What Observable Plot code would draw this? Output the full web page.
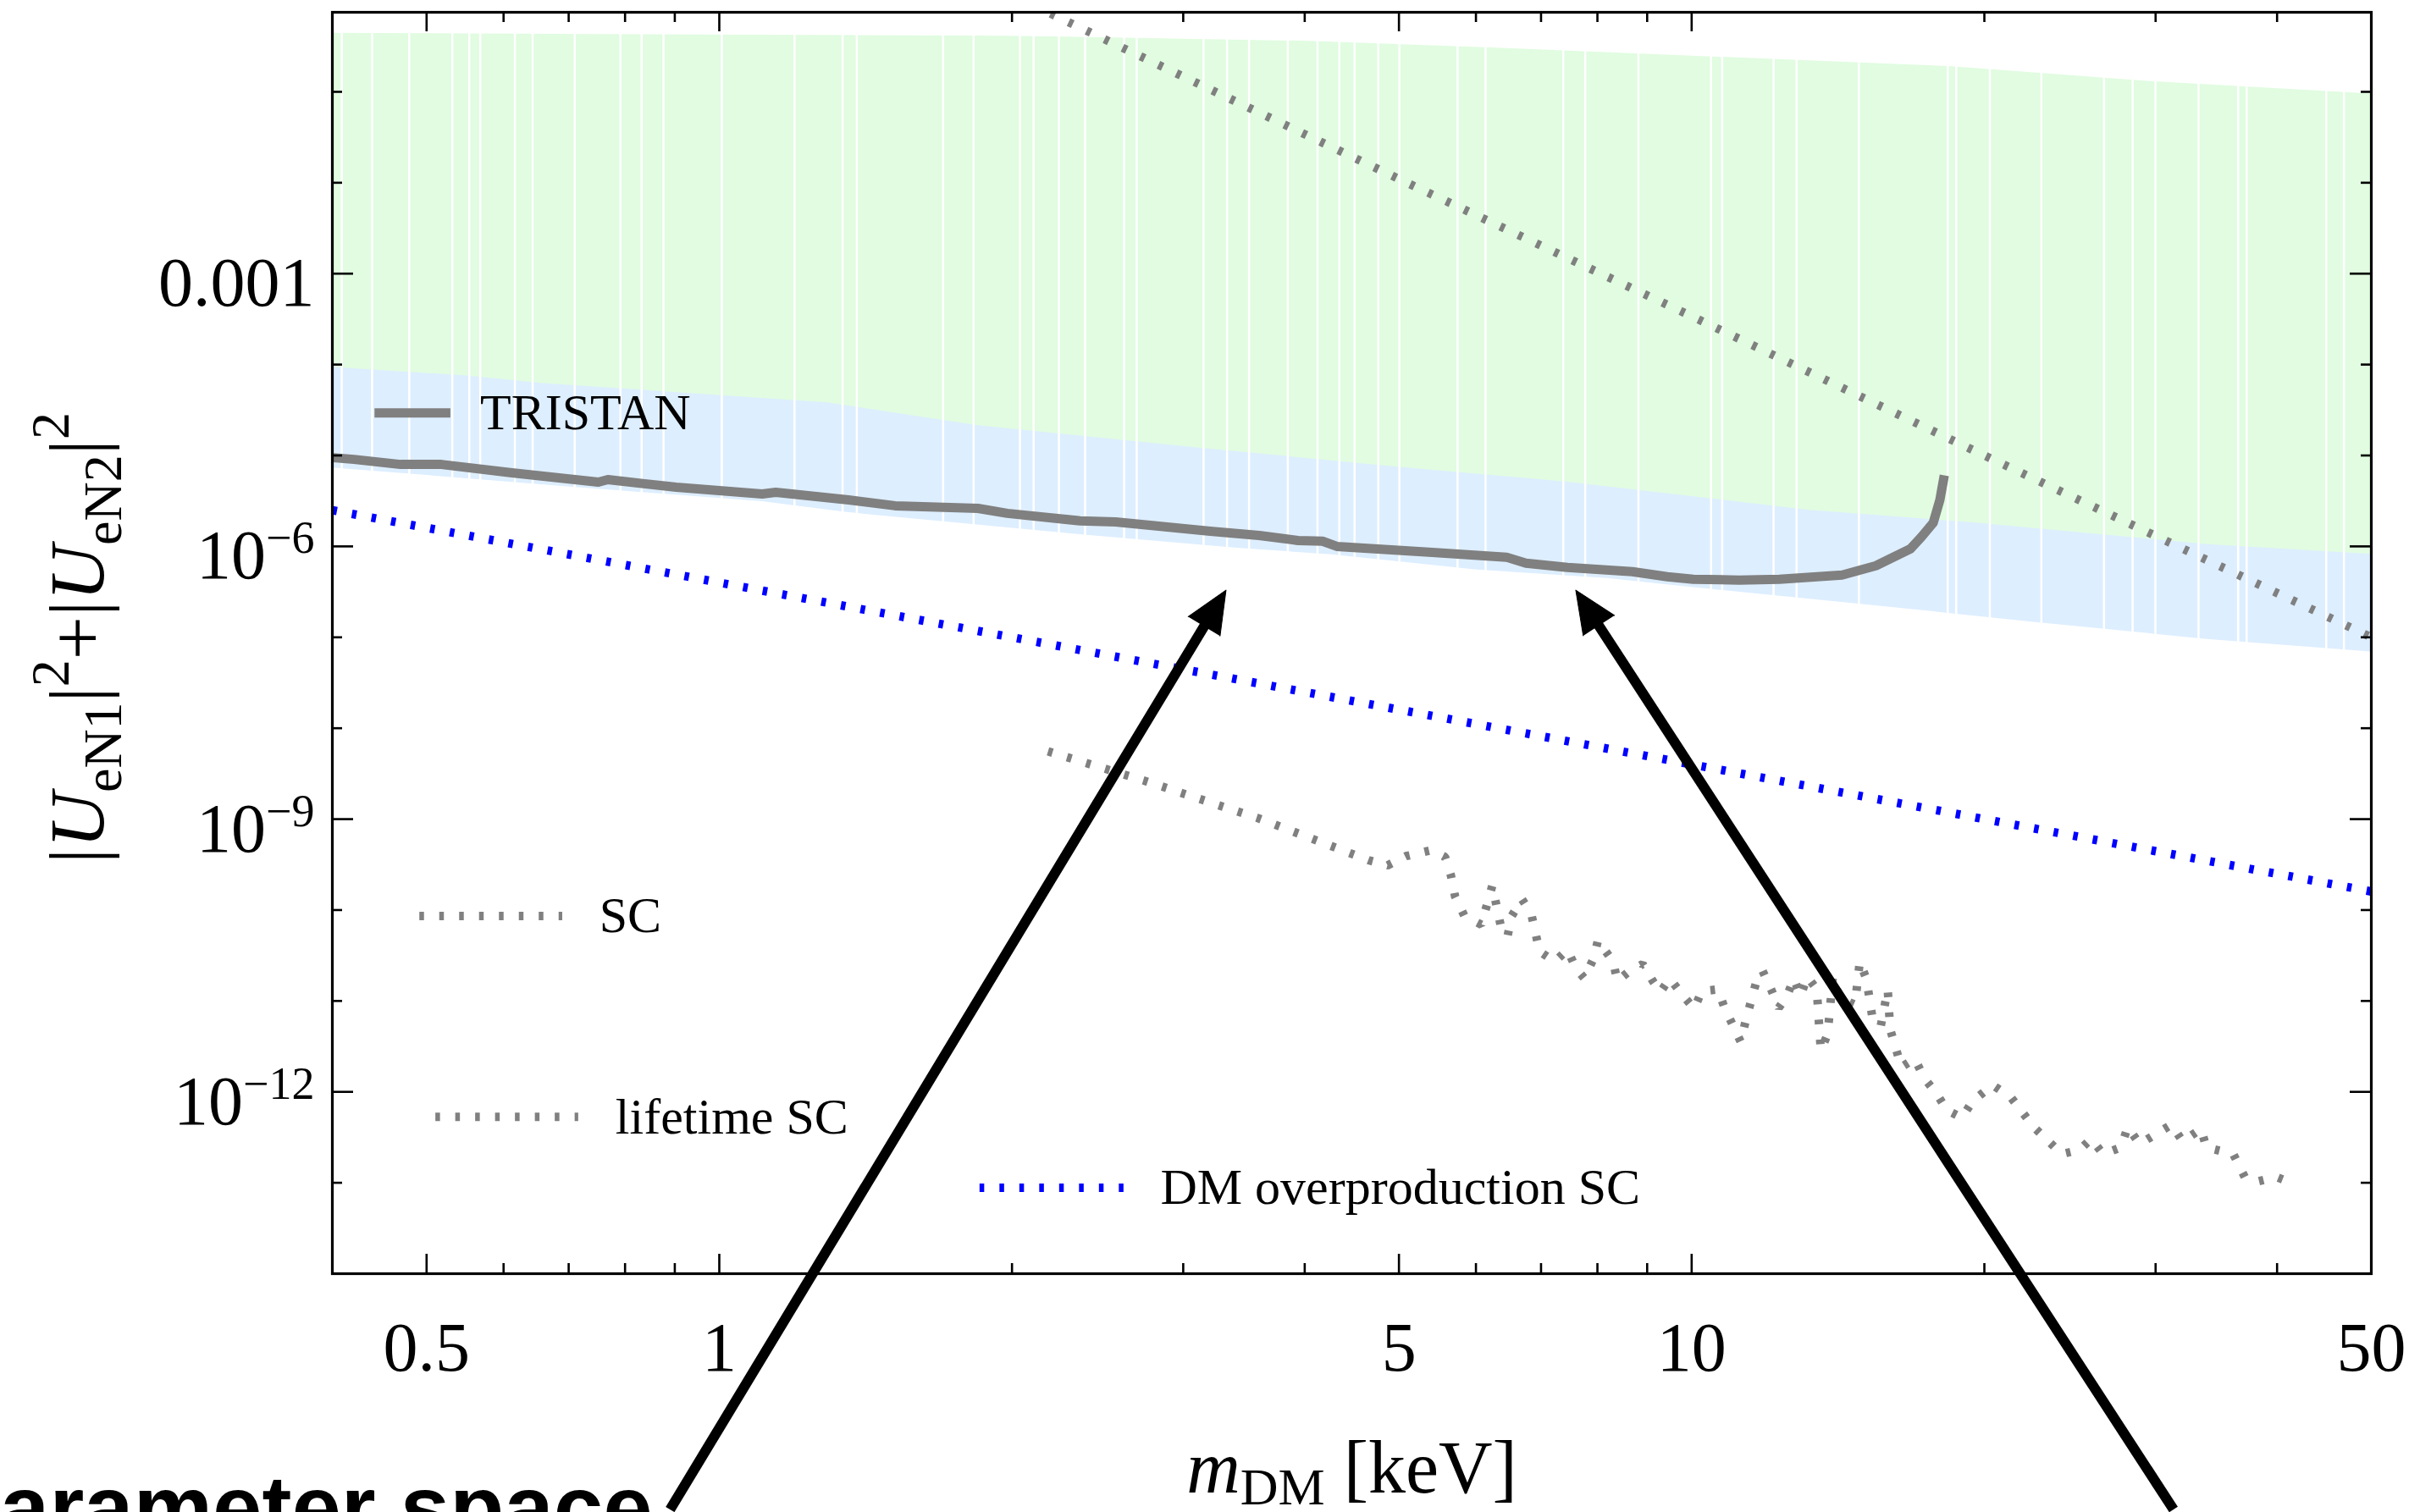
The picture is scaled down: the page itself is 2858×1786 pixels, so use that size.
<!DOCTYPE html>
<html>
<head>
<meta charset="utf-8">
<script src="https://cdn.jsdelivr.net/npm/d3@7"></script>
<script src="https://cdn.jsdelivr.net/npm/@observablehq/plot@0.6"></script>
<style>
html, body { margin: 0; padding: 0; background: #fff; overflow: hidden; width: 2858px; height: 1786px; }
#wrap { position: relative; width: 2858px; height: 1786px; overflow: hidden; }
#wrap svg { position: absolute; left: 0; top: 0; }
#caption { position: absolute; left: -70px; top: 1728px; font: bold 105px "Liberation Sans", Arial, sans-serif; line-height: 1; white-space: nowrap; color: #000; }
</style>
</head>
<body>
<div id="wrap"></div>
<script>
// ---------------- data ----------------
// scan band: upper edge of the green points
const greenTopM = [0.4, 1.98, 4.04, 6.70, 18.4, 29.6, 50];
const greenTopU = [0.44, 0.41, 0.36, 0.295, 0.19, 0.13, 0.095];
// boundary between green (upper) and blue (lower) points
const blueTopM = [0.4, 0.55, 0.658, 1.29, 1.845, 3.13, 4.95, 7.45, 13.2, 19.7, 33.9, 50];
const blueTopU = [9.3e-5, 7.5e-5, 6.2e-5, 3.8e-5, 2.13e-5, 1.2e-5, 7.5e-6, 5.1e-6, 2.5e-6, 1.8e-6, 1.05e-6, 8.2e-7];
// lower edge of the blue points
const blueBottomM = [0.4, 0.707, 1.107, 1.353, 2.402, 3.388, 4.264, 6.017, 8.189, 10.04, 15.07, 22.58, 33.88, 50];
const blueBottomU = [7.31e-6, 4.48e-6, 3.11e-6, 2.36e-6, 1.32e-6, 9.6e-7, 8.1e-7, 5.5e-7, 4.45e-7, 3.52e-7, 2.29e-7, 1.46e-7, 9.5e-8, 6.9e-8];
// empty mass columns in the scan
const scanGapM = [0.409, 0.4395, 0.4799, 0.5314, 0.5532, 0.5677, 0.6163, 0.6427, 0.7101, 0.7913, 0.832, 0.8763,
  1.006, 1.195, 1.339, 1.385, 1.699, 1.826, 2.038, 2.105, 2.235, 2.378, 2.608, 2.687, 3.148, 3.328, 3.506,
  3.843, 4.123, 4.342, 4.501, 4.761, 5.005, 5.744, 6.138, 7.379, 7.772, 8.816, 10.47, 10.75, 12.14, 12.82,
  14.86, 18.34, 18.71, 20.26, 22.89, 26.55, 28.41, 29.99, 33.21, 36.48, 37.22, 44.94, 46.86];

// TRISTAN sensitivity
const tristanM = [0.401, 0.421, 0.470, 0.518, 0.612, 0.751, 0.768, 0.903, 1.107, 1.143, 1.358, 1.516, 1.845, 1.978,
  2.35, 2.556, 3.198, 3.591, 3.937, 4.172, 4.316, 5.368, 6.452, 6.755, 7.451, 8.69, 9.44, 10.04, 11.19, 12.31,
  14.28, 15.47, 16.79, 17.23, 17.72, 18.00, 18.19];
const tristanU = [9.46e-6, 9.06e-6, 7.97e-6, 7.97e-6, 6.44e-6, 5.09e-6, 5.43e-6, 4.47e-6, 3.77e-6, 3.94e-6, 3.25e-6,
  2.80e-6, 2.62e-6, 2.31e-6, 1.91e-6, 1.86e-6, 1.47e-6, 1.32e-6, 1.16e-6, 1.14e-6, 1.00e-6, 8.63e-7, 7.59e-7,
  6.53e-7, 5.87e-7, 5.27e-7, 4.64e-7, 4.35e-7, 4.26e-7, 4.35e-7, 4.84e-7, 6.12e-7, 9.40e-7, 1.27e-6, 1.82e-6,
  3.25e-6, 6.04e-6];

// SC (straight grey dotted)
const scM = [2.1, 5, 10, 20, 50];
const scU = [0.9, 1.1e-2, 3.4e-4, 1.0e-5, 1.0e-7];

// lifetime SC (wiggly grey dotted)
const lifeM = [2.178, 2.741, 3.576, 4.658, 4.867, 5.086, 5.400, 5.577, 5.655, 5.711, 5.838, 6.077, 6.237, 6.364,
  6.466, 6.531, 6.689, 6.838, 6.976, 7.232, 7.452, 7.603, 7.757, 7.929, 8.009, 8.303, 8.386, 8.590, 8.904, 9.120,
  9.287, 9.493, 9.763, 10.06, 10.24, 10.64, 10.81, 11.23, 11.36, 11.64, 11.83, 12.07, 12.29, 12.54, 12.74, 12.94,
  13.15, 13.45, 13.53, 13.58, 13.80, 13.97, 14.19, 14.72, 14.89, 15.13, 15.35, 15.65, 15.91, 16.00, 16.43, 16.96,
  17.34, 17.86, 18.30, 18.97, 19.43, 20.39, 21.30, 22.48, 24.02, 25.05, 25.76, 26.49, 27.64, 28.08, 28.88, 31.16,
  31.98, 33.42, 33.82, 36.06, 37.08, 38.28, 39.93, 41.56];
const lifeU = [5.56e-9, 2.63e-9, 1.03e-9, 3.52e-10, 3.10e-10, 3.92e-10, 4.55e-10, 3.84e-10, 2.40e-10, 1.41e-10,
  8.6e-11, 6.9e-11, 1.85e-10, 6.65e-11, 5.14e-11, 8.6e-11, 1.32e-10, 9.2e-11, 3.50e-11, 2.71e-11, 3.66e-11, 2.28e-11,
  1.77e-11, 2.95e-11, 4.62e-11, 2.71e-11, 1.66e-11, 2.05e-11, 2.54e-11, 1.66e-11, 1.25e-11, 1.77e-11, 1.20e-11,
  8.2e-12, 1.28e-11, 1.34e-11, 8.4e-12, 3.56e-12, 5.93e-12, 1.55e-11, 2.14e-11, 1.34e-11, 8.4e-12, 1.15e-11,
  1.77e-11, 1.13e-11, 1.85e-11, 1.34e-11, 4.9e-12, 2.87e-12, 4.31e-12, 1.85e-11, 1.08e-11, 9.1e-12, 2.71e-11,
  1.73e-11, 6.3e-12, 5.33e-12, 1.34e-11, 4.9e-12, 1.87e-12, 2.32e-12, 1.42e-12, 9.6e-13, 6.3e-13, 5.19e-13, 7.8e-13,
  1.19e-12, 8.7e-13, 4.1e-13, 2.07e-13, 2.30e-13, 3.04e-13, 2.07e-13, 2.45e-13, 4.1e-13, 2.67e-13, 4.37e-13,
  2.85e-13, 3.93e-13, 2.45e-13, 2.07e-13, 1.14e-13, 1.04e-13, 1.16e-13, 9.8e-14];

// DM overproduction SC (blue dotted)
const overM = [0.4, 1, 10, 50];
const overU = [2.5e-6, 4.0e-7, 4.0e-9, 1.6e-10];

// legend entries (placed inside the frame, data coordinates)
const legendNames = ["TRISTAN", "SC", "lifetime SC", "DM overproduction SC"];
const legendLineM1 = [0.442, 0.4915, 0.5105, 1.852];
const legendLineM2 = [0.529, 0.6894, 0.716, 2.623];
const legendTextM = [0.5676, 0.7526, 0.782, 2.842];
const legendU = [2.94e-5, 8.6e-11, 5.3e-13, 8.8e-14];

// annotation arrows pointing at the TRISTAN curve
const arrowTipM = [3.32, 7.60];
const arrowTipU = [3.3e-7, 3.3e-7];
const arrowTailM = [0.890, 31.3];
const arrowTailU = [2.55e-17, 2.55e-17];

// ticks
const xMajor = [0.5, 1, 5, 10, 50];
const xTickLabels = ["0.5", "1", "5", "10", "50"];
const xMinor = [0.6, 0.7, 0.8, 0.9, 2, 3, 4, 6, 7, 8, 9, 20, 30, 40];
const yMajor = [1e-3, 1e-6, 1e-9, 1e-12];
const yTickLabels = ["0.001", "10^\u22126", "10^\u22129", "10^\u221212"];
const yMinor = [1e-1, 1e-2, 1e-4, 1e-5, 1e-7, 1e-8, 1e-10, 1e-11, 1e-13];

const xTitleParts = [["m", "i"], ["DM", "sub"], [" [keV]", ""]];
const yTitleParts = [["|", ""], ["U", "i"], ["eN1", "sub"], ["|", ""], ["2", "sup"], ["+", ""], ["|", ""], ["U", "i"], ["eN2", "sub"], ["|", ""], ["2", "sup"]];

// ---------------- styling ----------------
const W = 2858, H = 1786;
const ML = 392, MR = 58, MT = 14, MB = 282;
const PW = W - ML - MR, PH = H - MT - MB;
const GREEN = "#e1fce1", BLUE = "#ddeeff", GREY = "#808080", DMBLUE = "#0000ff";
const DOT = "5.5,18";
const LW = 10;
const SERIF = "'Liberation Serif', 'Times New Roman', serif";

const rows = (ms, us) => ms.map((m, i) => ({m, u: us[i]}));

const baseMarks = [
  Plot.areaY(rows(greenTopM, greenTopU), {x: "m", y1: 1e-14, y2: "u", fill: GREEN}),
  Plot.areaY(rows(blueTopM, blueTopU), {x: "m", y1: 1e-14, y2: "u", fill: BLUE}),
  Plot.areaY(rows(blueBottomM, blueBottomU), {x: "m", y1: 1e-14, y2: "u", fill: "white"}),
  Plot.ruleX(scanGapM, {x: d => d, stroke: "white", strokeWidth: 2.5}),
  Plot.line(rows(scM, scU), {x: "m", y: "u", stroke: GREY, strokeWidth: LW, strokeDasharray: DOT, strokeLinecap: "butt", clip: true}),
  Plot.line(rows(lifeM, lifeU), {x: "m", y: "u", stroke: GREY, strokeWidth: LW, strokeDasharray: DOT, strokeLinecap: "butt", strokeLinejoin: "miter", clip: true}),
  Plot.line(rows(overM, overU), {x: "m", y: "u", stroke: DMBLUE, strokeWidth: LW, strokeDasharray: DOT, strokeLinecap: "butt", clip: true}),
  Plot.line(rows(tristanM, tristanU), {x: "m", y: "u", stroke: GREY, strokeWidth: 11, strokeLinecap: "butt", clip: true}),
  // legends
  Plot.link([0], {x1: i => legendLineM1[i], x2: i => legendLineM2[i], y1: i => legendU[i], y2: i => legendU[i], stroke: GREY, strokeWidth: 11, strokeLinecap: "butt"}),
  Plot.link([1, 2], {x1: i => legendLineM1[i], x2: i => legendLineM2[i], y1: i => legendU[i], y2: i => legendU[i], stroke: GREY, strokeWidth: LW, strokeDasharray: DOT, strokeLinecap: "butt"}),
  Plot.link([3], {x1: i => legendLineM1[i], x2: i => legendLineM2[i], y1: i => legendU[i], y2: i => legendU[i], stroke: DMBLUE, strokeWidth: LW, strokeDasharray: DOT, strokeLinecap: "butt"}),
  Plot.text([0, 1, 2, 3], {x: i => legendTextM[i], y: i => legendU[i], text: i => legendNames[i], textAnchor: "start", lineAnchor: "middle", fontSize: 60, fill: "black"}),
  // ticks (inward, on all four sides)
  Plot.tickY(yMajor, {y: d => d, insetRight: PW - 25, stroke: "black", strokeWidth: 2.6}),
  Plot.tickY(yMinor, {y: d => d, insetRight: PW - 12, stroke: "black", strokeWidth: 2.6}),
  Plot.tickY(yMajor, {y: d => d, insetLeft: PW - 25, stroke: "black", strokeWidth: 2.6}),
  Plot.tickY(yMinor, {y: d => d, insetLeft: PW - 12, stroke: "black", strokeWidth: 2.6}),
  Plot.tickX(xMajor, {x: d => d, insetTop: PH - 23, stroke: "black", strokeWidth: 2.6}),
  Plot.tickX(xMinor, {x: d => d, insetTop: PH - 12, stroke: "black", strokeWidth: 2.6}),
  Plot.tickX(xMajor, {x: d => d, insetBottom: PH - 23, stroke: "black", strokeWidth: 2.6}),
  Plot.tickX(xMinor, {x: d => d, insetBottom: PH - 12, stroke: "black", strokeWidth: 2.6}),
  Plot.frame({stroke: "black", strokeWidth: 3.2}),
  // tick labels
  Plot.text(yMajor, {y: d => d, text: (d, i) => yTickLabels[i], frameAnchor: "left", textAnchor: "end", lineAnchor: "bottom", dx: -21, dy: 38, fontSize: 82, fill: "black"}),
  Plot.text(xMajor, {x: d => d, text: (d, i) => xTickLabels[i], frameAnchor: "bottom", textAnchor: "middle", lineAnchor: "bottom", dy: 114, fontSize: 82, fill: "black"}),
  // axis titles
  Plot.text(["y-axis-title"], {text: d => d, frameAnchor: "left", rotate: -90, textAnchor: "middle", lineAnchor: "bottom", dx: -271, dy: -6, fontSize: 91, fill: "black"}),
  Plot.text(["x-axis-title"], {text: d => d, frameAnchor: "bottom", textAnchor: "middle", lineAnchor: "bottom", dy: 258, fontSize: 88, fill: "black"})
];

const options = marks => ({
  width: W, height: H,
  marginLeft: ML, marginRight: MR, marginTop: MT, marginBottom: MB,
  style: {background: "transparent", fontFamily: SERIF, overflow: "visible"},
  x: {type: "log", domain: [0.4, 50], axis: null},
  y: {type: "log", domain: [1e-14, 0.75], axis: null},
  marks
});

// first pass: get the scales to orient the arrow heads
const probe = Plot.plot(options(baseMarks));
const sx = probe.scale("x"), sy = probe.scale("y");
const HEAD = 50;
const arrows = arrowTipM.map((m, i) => {
  const tx = sx.apply(m), ty = sy.apply(arrowTipU[i]);
  const ax = sx.apply(arrowTailM[i]), ay = sy.apply(arrowTailU[i]);
  const len = Math.hypot(tx - ax, ty - ay);
  const ux = (tx - ax) / len, uy = (ty - ay) / len;
  const ex = tx - ux * (HEAD - 4), ey = ty - uy * (HEAD - 4);
  return {
    tipM: m, tipU: arrowTipU[i], tailM: arrowTailM[i], tailU: arrowTailU[i],
    endM: sx.invert(ex), endU: sy.invert(ey),
    angle: Math.atan2(ux, -uy) * 180 / Math.PI
  };
});

const arrowMarks = [
  Plot.link(arrows, {x1: "tailM", y1: "tailU", x2: "endM", y2: "endU", stroke: "black", strokeWidth: 12, strokeLinecap: "butt"}),
  Plot.vector(arrows, {x: "tipM", y: "tipU", rotate: "angle", length: HEAD, r: 22, shape: "spike", anchor: "end", fill: "black", fillOpacity: 1, stroke: "black", strokeWidth: 1})
];

const svg = Plot.plot(options([...baseMarks, ...arrowMarks]));

// rich text (italic, sub- and superscripts)
const NS = "http://www.w3.org/2000/svg";
function richText(textEl, parts, size, subDrop = 0.24) {
  while (textEl.firstChild) textEl.removeChild(textEl.firstChild);
  let shift = 0;
  for (const [s, kind] of parts) {
    const t = document.createElementNS(NS, "tspan");
    t.textContent = s;
    let target = 0;
    if (kind === "sub") { target = subDrop * size; t.setAttribute("font-size", Math.round(size * 0.7)); }
    else if (kind === "sup") { target = -0.45 * size; t.setAttribute("font-size", Math.round(size * 0.7)); }
    if (kind === "i") t.setAttribute("font-style", "italic");
    const dy = target - shift;
    if (dy !== 0) t.setAttribute("dy", dy);
    shift = target;
    textEl.appendChild(t);
  }
}
Array.from(svg.querySelectorAll("text")).forEach(t => {
  const s = t.textContent;
  if (s === "y-axis-title") richText(t, yTitleParts, 91);
  else if (s === "x-axis-title") richText(t, xTitleParts, 88, 0.17);
  else if (s.includes("^")) {
    const [b, e] = s.split("^");
    richText(t, [[b, ""], [e, "sup"]], 82);
    t.lastChild.setAttribute("font-size", 54);
    t.lastChild.setAttribute("dy", -30);
  }
});

const wrap = document.getElementById("wrap");
wrap.appendChild(svg);
const cap = document.createElement("div");
cap.id = "caption";
cap.textContent = "Parameter space";
wrap.appendChild(cap);
</script>
</body>
</html>
